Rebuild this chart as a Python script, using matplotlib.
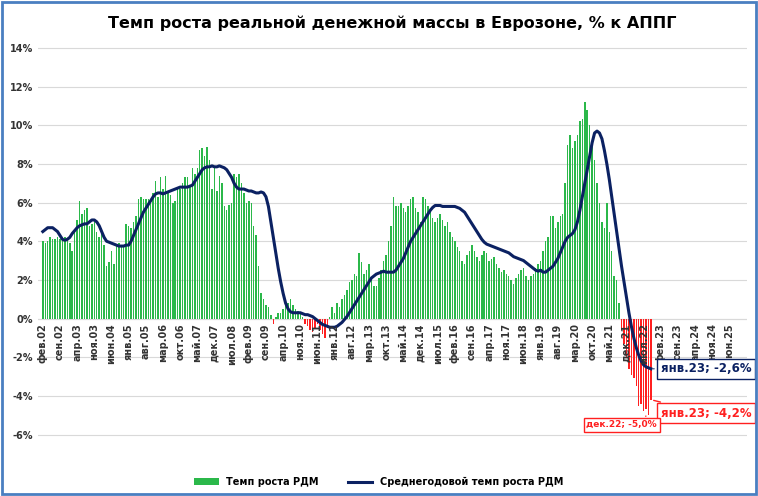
import matplotlib
matplotlib.use("Agg")
import matplotlib.pyplot as plt
from matplotlib.patches import Rectangle

# monthly, Feb 2002 .. Jan 2023
rdm = [
    4.0, 3.9, 4.0, 4.2, 4.1, 4.1, 4.2, 4.1, 4.2, 4.2, 4.1,                 # 2002
    3.9, 3.5, 4.6, 5.1, 6.1, 5.4, 5.6, 5.7, 4.8, 4.9, 5.0, 4.5,            # 2003
    4.2, 4.7, 3.8, 2.7, 2.9, 3.5, 2.8, 3.8, 3.9, 3.8, 3.7, 4.9,            # 2004
    4.8, 4.7, 5.0, 5.3, 6.2, 6.3, 6.2, 6.2, 6.2, 6.0, 6.5, 7.1,            # 2005
    6.3, 7.3, 6.7, 7.4, 6.5, 6.4, 6.0, 6.1, 6.8, 6.7, 7.0, 7.3,            # 2006
    7.3, 6.8, 7.8, 7.5, 7.8, 8.7, 8.8, 8.4, 8.9, 8.2, 6.7, 7.8,            # 2007
    6.6, 7.4, 7.0, 5.8, 5.6, 5.9, 6.0, 7.5, 7.3, 7.5, 7.0, 6.5,            # 2008
    6.0, 6.1, 6.0, 4.8, 4.3, 2.7, 1.3, 1.0, 0.7, 0.6, 0.2, -0.3,           # 2009
    0.1, 0.3, 0.3, 0.5, 0.7, 0.8, 1.0, 0.7, 0.5, 0.4, 0.3, 0.1,            # 2010
    -0.3, -0.4, -0.6, -0.7, -0.5, -0.3, -0.6, -0.8, -1.0, -0.5, 0.1, 0.6,  # 2011
    0.3, 0.8, 0.6, 1.0, 1.2, 1.5, 1.9, 2.0, 2.3, 2.2, 3.4, 2.9,            # 2012
    2.3, 2.5, 2.8, 2.0, 1.7, 1.7, 2.1, 2.5, 3.0, 3.3, 4.0, 4.8,            # 2013
    6.3, 5.8, 5.8, 6.0, 5.7, 5.5, 5.8, 6.2, 6.3, 5.7, 5.5, 5.0,            # 2014
    6.3, 6.2, 5.8, 5.5, 5.2, 5.0, 5.2, 5.4, 5.1, 4.8, 5.0, 4.5,            # 2015
    4.2, 4.0, 3.7, 3.5, 3.0, 2.8, 3.3, 3.5, 3.8, 3.5, 3.2, 3.0,            # 2016
    3.3, 3.5, 3.4, 3.0, 3.1, 3.2, 2.8, 2.6, 2.4, 2.5, 2.3, 2.2,            # 2017
    2.0, 1.8, 2.1, 2.3, 2.5, 2.6, 2.2, 2.0, 2.2, 2.3, 2.6, 2.8,            # 2018
    3.0, 3.5, 4.0, 4.2, 5.3, 5.3, 4.7, 5.0, 5.3, 5.4, 7.0, 9.0,            # 2019
    9.5, 8.8, 9.2, 9.5, 10.2, 10.3, 11.2, 10.8, 10.0, 9.0, 8.2, 7.0,       # 2020
    6.0, 5.0, 4.7, 6.0, 4.5, 3.5, 2.2, 2.0, 0.8, -0.5, -1.3, -2.0,         # 2021
    -2.6, -2.9, -3.1, -3.5, -4.5, -4.4, -4.8, -4.7, -5.0, -4.2,            # 2022
]
avg = [
    4.5, 4.6, 4.7, 4.7, 4.7, 4.6, 4.5, 4.3, 4.1, 4.05, 4.1,
    4.2, 4.4, 4.55, 4.7, 4.8, 4.85, 4.9, 4.9, 5.0, 5.1, 5.1, 5.0,
    4.8, 4.5, 4.2, 4.0, 3.95, 3.9, 3.85, 3.8, 3.75, 3.75, 3.75, 3.8,
    3.8, 4.0, 4.3, 4.6, 4.9, 5.2, 5.5, 5.7, 5.9, 6.1, 6.3, 6.45,
    6.5, 6.5, 6.45, 6.5, 6.55, 6.6, 6.65, 6.7, 6.75, 6.8, 6.8, 6.8,
    6.8, 6.85, 6.9, 7.1, 7.3, 7.5, 7.7, 7.8, 7.85, 7.85, 7.9, 7.85,
    7.85, 7.9, 7.85, 7.8, 7.7, 7.5, 7.3, 7.0, 6.8, 6.7, 6.7, 6.7,
    6.65, 6.6, 6.6, 6.55, 6.5, 6.5, 6.55, 6.5, 6.3, 5.8, 5.0, 4.2,
    3.4, 2.6, 1.9, 1.3, 0.8, 0.5, 0.35, 0.3, 0.3, 0.3, 0.3, 0.25,
    0.2, 0.2, 0.15, 0.1, 0.0, -0.1, -0.2, -0.3, -0.35, -0.4, -0.45, -0.45,
    -0.45, -0.4, -0.3, -0.2, -0.05, 0.1, 0.3, 0.5, 0.7, 0.9, 1.1, 1.3,
    1.5, 1.7, 1.9, 2.1, 2.2, 2.3, 2.35, 2.4, 2.45, 2.4, 2.4, 2.4,
    2.4, 2.5, 2.7, 2.9, 3.1, 3.4, 3.7, 4.0, 4.2, 4.4, 4.6, 4.8,
    5.0, 5.2, 5.4, 5.6, 5.75, 5.85, 5.85, 5.85, 5.8, 5.8, 5.8, 5.8,
    5.8, 5.8, 5.75, 5.7, 5.6, 5.5, 5.3, 5.1, 4.9, 4.7, 4.5, 4.3,
    4.1, 3.95, 3.85, 3.8, 3.75, 3.7, 3.65, 3.6, 3.55, 3.5, 3.45, 3.4,
    3.3, 3.2, 3.15, 3.1, 3.05, 3.0, 2.9, 2.8, 2.7, 2.6, 2.5, 2.45,
    2.5, 2.4, 2.4, 2.5, 2.6, 2.7, 2.9, 3.1, 3.4, 3.7, 4.0, 4.2,
    4.3, 4.4, 4.6, 5.0, 5.6, 6.3, 7.0, 7.7, 8.4, 9.1, 9.6, 9.7,
    9.6, 9.3, 8.7, 8.0, 7.2, 6.3, 5.4, 4.5, 3.6, 2.7, 1.9, 1.1,
    0.3, -0.4, -1.0, -1.5, -1.9, -2.2, -2.4, -2.5, -2.55, -2.6, -2.6, -2.6,
    -2.6,
]
months = ["янв", "фев", "мар", "апр", "май", "июн", "июл", "авг", "сен", "окт", "ноя", "дек"]
n = min(len(rdm), len(avg))
rdm, avg = rdm[:n], avg[:n]
x = list(range(n))
tick_idx = list(range(0, 281, 7))
tick_lab = ["%s.%02d" % (months[(i + 1) % 12], (2002 + (i + 1) // 12) % 100) for i in tick_idx]

GREEN = "#2bb84a"
RED = "#ff2020"
NAVY = "#0b2162"

fig = plt.figure(figsize=(7.58, 4.96), dpi=100)
fig.patches.append(Rectangle((0.003, 0.004), 0.994, 0.992, transform=fig.transFigure,
                             fill=False, ec="#4a7fc1", lw=2))
ax = fig.add_axes([0.05, 0.085, 0.935, 0.83])
cols = [GREEN if v >= 0 else RED for v in rdm]
ax.bar(x, rdm, width=0.6, color=cols, label="Темп роста РДМ", zorder=2)
ax.plot(x, avg, color=NAVY, lw=2.2, label="Среднегодовой темп роста РДМ", zorder=3)
ax.set_xlim(-2, 287)
ax.set_ylim(-7, 14.3)
ax.set_yticks(range(-6, 15, 2))
ax.set_yticklabels(["%d%%" % v for v in range(-6, 15, 2)], fontsize=7, color="#333333",
                   fontweight="bold")
ax.grid(axis="y", color="#d9d9d9", lw=0.8, zorder=0)
ax.set_xticks([])
for s in ax.spines.values():
    s.set_visible(False)
ax.tick_params(axis="y", length=0)
ax.axhline(0, color="#d9d9d9", lw=0.8, zorder=1)
for i, lab in zip(tick_idx, tick_lab):
    ax.text(i, -0.25, lab, rotation=90, ha="center", va="top", fontsize=7,
            color="#333333", fontweight="bold")

ax.set_title("Темп роста реальной денежной массы в Еврозоне, % к АППГ",
             fontsize=11.5, fontweight="bold", pad=10)

ax.annotate("янв.23; -2,6%", xy=(n - 1, avg[-1]), xytext=(n + 3, -2.6),
            fontsize=8.5, fontweight="bold", color=NAVY, va="center",
            bbox=dict(boxstyle="square,pad=0.3", fc="white", ec=NAVY, lw=1),
            arrowprops=dict(arrowstyle="-", color=NAVY, lw=1))
ax.annotate("янв.23; -4,2%", xy=(n - 1, rdm[-1]), xytext=(n + 3, -4.9),
            fontsize=8.5, fontweight="bold", color=RED, va="center",
            bbox=dict(boxstyle="square,pad=0.3", fc="white", ec=RED, lw=1),
            arrowprops=dict(arrowstyle="-", color=RED, lw=1))
ax.annotate("дек.22; -5,0%", xy=(n - 2, rdm[-2]), xytext=(n - 13, -5.5),
            fontsize=6.5, fontweight="bold", color=RED, va="center", ha="center",
            bbox=dict(boxstyle="square,pad=0.3", fc="white", ec=RED, lw=1),
            arrowprops=dict(arrowstyle="-", color=RED, lw=1))

h, l = ax.get_legend_handles_labels()
fig.legend(h[::-1], l[::-1], loc="lower center", ncol=2, frameon=False,
           bbox_to_anchor=(0.5, 0.0), handlelength=2.5, columnspacing=3,
           prop=dict(size=7, weight="bold"))
fig.savefig("out.png", dpi=100)
